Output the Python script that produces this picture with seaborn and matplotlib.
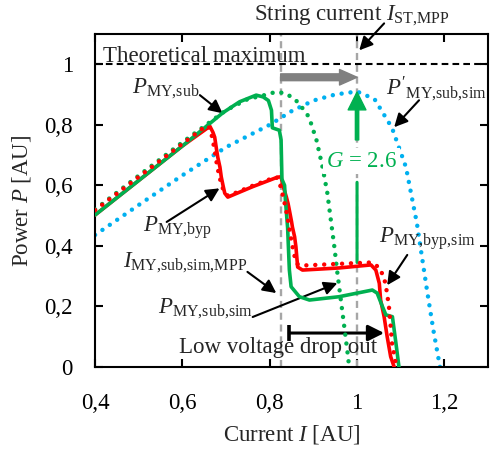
import numpy as np
import pandas as pd
import matplotlib
matplotlib.use("Agg")
import matplotlib.pyplot as plt
import matplotlib.ticker as mtick
import seaborn as sns

# Curves (current I, power P)
sub_i = [0.400, 0.500, 0.600, 0.693, 0.731, 0.769, 0.785, 0.797, 0.804, 0.806, 0.822, 0.826,
         0.828, 0.834, 0.836, 0.841, 0.845, 0.849, 0.868, 0.891, 0.959, 1.035, 1.046, 1.058,
         1.066, 1.081, 1.089, 1.096]
sub_p = [0.502, 0.616, 0.730, 0.840, 0.876, 0.898, 0.892, 0.880, 0.848, 0.790, 0.782, 0.750,
         0.620, 0.600, 0.550, 0.460, 0.320, 0.265, 0.232, 0.221, 0.232, 0.254, 0.244, 0.200,
         0.172, 0.166, 0.079, 0.000]

byp_i = [0.400, 0.500, 0.600, 0.663, 0.670, 0.674, 0.678, 0.681, 0.686, 0.689, 0.693, 0.697,
         0.704, 0.760, 0.818, 0.826, 0.830, 0.838, 0.842, 0.845, 0.850, 0.852, 0.857, 0.860,
         0.864, 0.875, 0.959, 1.032, 1.043, 1.051, 1.054, 1.062, 1.069, 1.077, 1.085]
byp_p = [0.502, 0.616, 0.730, 0.795, 0.775, 0.759, 0.720, 0.693, 0.660, 0.628, 0.600, 0.574,
         0.561, 0.595, 0.627, 0.628, 0.600, 0.562, 0.540, 0.518, 0.480, 0.462, 0.430, 0.397,
         0.330, 0.320, 0.327, 0.337, 0.320, 0.276, 0.221, 0.166, 0.100, 0.034, 0.000]

byp_sim_i = [0.400, 0.500, 0.600, 0.655, 0.662, 0.668, 0.674, 0.680, 0.688, 0.696, 0.705, 0.760,
             0.815, 0.824, 0.832, 0.840, 0.848, 0.856, 0.863, 0.875, 0.950, 1.030, 1.050, 1.062,
             1.068, 1.073, 1.077, 1.080, 1.089]
byp_sim_p = [0.518, 0.628, 0.737, 0.797, 0.790, 0.760, 0.715, 0.660, 0.610, 0.575, 0.565, 0.598,
             0.628, 0.600, 0.555, 0.500, 0.430, 0.370, 0.340, 0.335, 0.340, 0.345, 0.330, 0.295,
             0.250, 0.200, 0.133, 0.079, 0.010]

sub_sim_i = [0.400, 0.500, 0.600, 0.700, 0.750, 0.788, 0.815, 0.838, 0.860, 0.879, 0.890, 0.907,
             0.921, 0.932, 0.940, 0.948, 0.955, 0.963, 0.971, 0.978, 0.982]
sub_sim_p = [0.520, 0.632, 0.742, 0.848, 0.885, 0.898, 0.909, 0.903, 0.881, 0.848, 0.825, 0.750,
             0.660, 0.574, 0.485, 0.397, 0.310, 0.220, 0.130, 0.050, 0.000]

shifted_i = [0.400, 0.500, 0.600, 0.700, 0.800, 0.850, 0.900, 0.950, 1.000, 1.040, 1.080, 1.112,
             1.137, 1.160, 1.175, 1.190]
shifted_p = [0.436, 0.535, 0.633, 0.726, 0.800, 0.845, 0.880, 0.900, 0.910, 0.885, 0.790, 0.660,
             0.475, 0.255, 0.120, 0.000]

i_mpp_sub_sim = 0.825
i_st_mpp = 1.0
gain = 2.6

x_ticks = [0.4, 0.6, 0.8, 1.0, 1.2]
y_ticks = [0, 0.2, 0.4, 0.6, 0.8, 1.0]

GREEN = "#00b050"
RED = "#ff0000"
BLUE = "#00b0f0"
FS = 16.5

sns.set_style("ticks")
plt.rcParams["font.family"] = ["Liberation Serif", "DejaVu Serif"]
plt.rcParams["mathtext.fontset"] = "custom"
plt.rcParams["mathtext.rm"] = "Liberation Serif"
plt.rcParams["mathtext.it"] = "Liberation Serif:italic"

fig = plt.figure(figsize=(4.9, 4.53), dpi=100)
ax = fig.add_axes([0.194, 0.19, 0.802, 0.735])

# reference lines
ax.axvline(i_mpp_sub_sim, color="#a6a6a6", lw=1.7, dashes=(3, 2), zorder=1)
ax.axvline(i_st_mpp, color="#a6a6a6", lw=1.7, dashes=(3, 2), zorder=1)
ax.axhline(1.0, color="black", lw=1.5, dashes=(3.2, 2), zorder=1)

dot = dict(linestyle=(0, (0.01, 2.0)), dash_capstyle="round", lw=3.2)
sns.lineplot(x=shifted_i, y=shifted_p, sort=False, estimator=None, color=BLUE, ax=ax, zorder=2, **dot)
sns.lineplot(x=byp_i, y=byp_p, sort=False, estimator=None, color=RED, lw=2.6, ax=ax, zorder=3)
sns.lineplot(x=sub_i, y=sub_p, sort=False, estimator=None, color=GREEN, lw=2.6, ax=ax, zorder=4)
sns.lineplot(x=sub_sim_i, y=sub_sim_p, sort=False, estimator=None, color=GREEN, ax=ax, zorder=5, **dot)
sns.lineplot(x=byp_sim_i, y=byp_sim_p, sort=False, estimator=None, color=RED, ax=ax, zorder=5, **dot)

ax.set_xlim(0.4, 1.3)
ax.set_ylim(0, 1.1)
ax.set_xticks(x_ticks)
ax.set_yticks(y_ticks)
comma = mtick.FuncFormatter(lambda v, _: ("%g" % round(v, 1)).replace(".", ","))
ax.xaxis.set_major_formatter(comma)
ax.yaxis.set_major_formatter(comma)
ax.tick_params(direction="in", top=True, right=True, length=6, width=1.5, labelsize=FS,
               colors="black")
ax.tick_params(axis="x", pad=19)
ax.tick_params(axis="y", pad=16)
for s in ax.spines.values():
    s.set_linewidth(1.5)
    s.set_color("black")
ax.set_xlabel("Current $I$ [AU]", fontsize=FS, labelpad=6)
ax.set_ylabel("Power $P$ [AU]", fontsize=FS, labelpad=8)

# annotations
arr = dict(arrowstyle="-|>,head_length=0.5,head_width=0.25", color="black", lw=1.5,
           mutation_scale=16, shrinkA=0, shrinkB=0)

def label(txt, xy, tail, head, **kw):
    ax.text(xy[0], xy[1], txt, fontsize=FS, va="baseline", **kw)
    ax.annotate("", xy=head, xytext=tail, arrowprops=arr, annotation_clip=False)

ax.text(0.418, 1.007, "Theoretical maximum", fontsize=FS, va="baseline")
label("String current $I_{\\mathrm{ST{,}MPP}}$", (0.987, 1.145), (1.062, 1.135), (1.005, 1.046),
      ha="center", clip_on=False)
label("$P_{\\mathrm{MY{,}sub}}$", (0.4845, 0.904), (0.64, 0.898), (0.692, 0.838))
label("$P'_{\\mathrm{MY{,}sub{,}sim}}$", (1.066, 0.898), (1.142, 0.881), (1.085, 0.792))
label("$P_{\\mathrm{MY{,}byp}}$", (0.51, 0.446), (0.564, 0.479), (0.685, 0.59))
label("$I_{\\mathrm{MY{,}sub{,}sim{,}MPP}}$", (0.464, 0.33), (0.749, 0.314), (0.815, 0.244))
label("$P_{\\mathrm{MY{,}sub{,}sim}}$", (0.544, 0.178), (0.761, 0.165), (0.955, 0.277))
label("$P_{\\mathrm{MY{,}byp{,}sim}}$", (1.051, 0.409), (1.115, 0.37), (1.069, 0.27))

# shift of the MPP
ax.annotate("", xy=(i_st_mpp, 0.957), xytext=(i_mpp_sub_sim, 0.957),
            arrowprops=dict(arrowstyle="simple,head_length=0.9,head_width=0.8,tail_width=0.35",
                            color="#808080", mutation_scale=14, shrinkA=0, shrinkB=0))

# gain arrow
ax.annotate("", xy=(i_st_mpp, 0.61), xytext=(i_st_mpp, 0.345),
            arrowprops=dict(arrowstyle="-", color=GREEN, lw=2.2, shrinkA=0, shrinkB=0))
ax.annotate("", xy=(i_st_mpp, 0.908), xytext=(i_st_mpp, 0.75),
            arrowprops=dict(arrowstyle="simple,head_length=0.8,head_width=0.8,tail_width=0.15",
                            color=GREEN, mutation_scale=16, shrinkA=0, shrinkB=0))
ax.text(1.01, 0.68, "$G$ = %.1f" % gain, color=GREEN, fontsize=FS, ha="center", va="center",
        zorder=6, bbox=dict(facecolor="white", edgecolor="none", pad=2))

# low voltage drop out
ax.annotate("", xy=(1.062, 0.112), xytext=(0.845, 0.112),
            arrowprops=dict(arrowstyle="-|>,head_length=0.6,head_width=0.3", color="black",
                            lw=2.2, mutation_scale=16, shrinkA=0, shrinkB=0))
ax.vlines(0.845, 0.087, 0.137, color="black", lw=2.6)
ax.text(0.819, 0.046, "Low voltage drop out", fontsize=FS, ha="center", va="baseline")

fig.savefig("out.png", dpi=100)
